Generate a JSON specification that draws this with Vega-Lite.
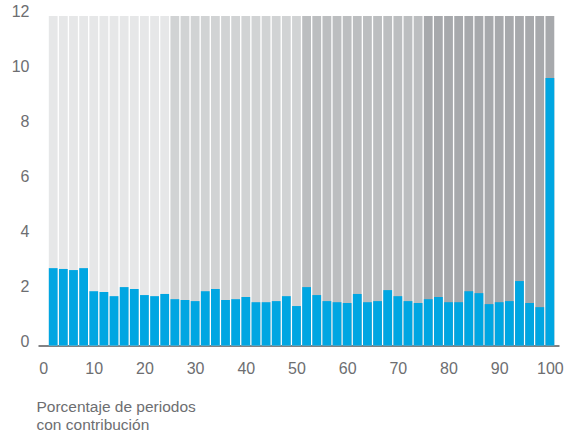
{
  "$schema": "https://vega.github.io/schema/vega-lite/v6.json",
  "autosize": {"type": "none"},
  "width": 521,
  "height": 329.6,
  "padding": {"left": 38, "top": 16, "right": 10, "bottom": 92},
  "background": "white",
  "config": {
    "view": {"stroke": null},
    "font": "Liberation Sans"
  },
  "data": {
    "values": [
      {"x": 2, "v": 2.82, "g": "Q1"}, {"x": 4, "v": 2.79, "g": "Q1"}, {"x": 6, "v": 2.75, "g": "Q1"},
      {"x": 8, "v": 2.82, "g": "Q1"}, {"x": 10, "v": 1.98, "g": "Q1"}, {"x": 12, "v": 1.95, "g": "Q1"},
      {"x": 14, "v": 1.80, "g": "Q1"}, {"x": 16, "v": 2.13, "g": "Q1"}, {"x": 18, "v": 2.06, "g": "Q1"},
      {"x": 20, "v": 1.84, "g": "Q1"}, {"x": 22, "v": 1.80, "g": "Q1"}, {"x": 24, "v": 1.88, "g": "Q1"},
      {"x": 26, "v": 1.69, "g": "Q2"}, {"x": 28, "v": 1.66, "g": "Q2"}, {"x": 30, "v": 1.62, "g": "Q2"},
      {"x": 32, "v": 1.98, "g": "Q2"}, {"x": 34, "v": 2.06, "g": "Q2"}, {"x": 36, "v": 1.66, "g": "Q2"},
      {"x": 38, "v": 1.69, "g": "Q2"}, {"x": 40, "v": 1.77, "g": "Q2"}, {"x": 42, "v": 1.58, "g": "Q2"},
      {"x": 44, "v": 1.58, "g": "Q2"}, {"x": 46, "v": 1.62, "g": "Q2"}, {"x": 48, "v": 1.80, "g": "Q2"},
      {"x": 50, "v": 1.44, "g": "Q2"}, {"x": 52, "v": 2.13, "g": "Q3"}, {"x": 54, "v": 1.84, "g": "Q3"},
      {"x": 56, "v": 1.62, "g": "Q3"}, {"x": 58, "v": 1.58, "g": "Q3"}, {"x": 60, "v": 1.55, "g": "Q3"},
      {"x": 62, "v": 1.88, "g": "Q3"}, {"x": 64, "v": 1.58, "g": "Q3"}, {"x": 66, "v": 1.62, "g": "Q3"},
      {"x": 68, "v": 2.02, "g": "Q3"}, {"x": 70, "v": 1.80, "g": "Q3"}, {"x": 72, "v": 1.62, "g": "Q3"},
      {"x": 74, "v": 1.55, "g": "Q3"}, {"x": 76, "v": 1.69, "g": "Q4"}, {"x": 78, "v": 1.77, "g": "Q4"},
      {"x": 80, "v": 1.58, "g": "Q4"}, {"x": 82, "v": 1.58, "g": "Q4"}, {"x": 84, "v": 1.98, "g": "Q4"},
      {"x": 86, "v": 1.91, "g": "Q4"}, {"x": 88, "v": 1.51, "g": "Q4"}, {"x": 90, "v": 1.58, "g": "Q4"},
      {"x": 92, "v": 1.62, "g": "Q4"}, {"x": 94, "v": 2.35, "g": "Q4"}, {"x": 96, "v": 1.55, "g": "Q4"},
      {"x": 98, "v": 1.40, "g": "Q4"}, {"x": 100, "v": 9.74, "g": "Q4"}
    ]
  },
  "encoding": {
    "x": {
      "field": "x",
      "type": "quantitative",
      "scale": {"domain": [-1, 101.8], "nice": false, "zero": false, "padding": 0},
      "axis": {
        "values": [0, 10, 20, 30, 40, 50, 60, 70, 80, 90, 100],
        "grid": false,
        "ticks": false,
        "tickSize": 0,
        "domain": true,
        "domainColor": "#58595b",
        "domainWidth": 1.5,
        "labelFont": "Liberation Sans",
        "labelFontSize": 16,
        "labelColor": "#6d6e71",
        "labelPadding": 15,
        "labelBaseline": "top",
        "labelFlush": false,
        "title": ["Porcentaje de periodos", "con contribución"],
        "titleFont": "Liberation Sans",
        "titleFontSize": 15.5,
        "titleFontWeight": "normal",
        "titleColor": "#6d6e71",
        "titleAnchor": "start",
        "titleAlign": "left",
        "titleBaseline": "alphabetic",
        "titleX": -2,
        "titleY": 65.5,
        "titleLineHeight": 18
      }
    }
  },
  "layer": [
    {
      "mark": {"type": "bar", "size": 8.8},
      "encoding": {
        "y": {
          "datum": 12,
          "type": "quantitative",
          "scale": {"domain": [0, 12], "nice": false},
          "axis": {
            "values": [0, 2, 4, 6, 8, 10, 12],
            "grid": false,
            "ticks": false,
            "tickSize": 0,
            "domain": false,
            "labelFont": "Liberation Sans",
            "labelFontSize": 16,
            "labelColor": "#6d6e71",
            "labelPadding": 9,
            "labelBaseline": "middle",
            "labelOffset": -4,
            "labelFlush": false,
            "title": null
          }
        },
        "color": {
          "field": "g",
          "type": "nominal",
          "scale": {"domain": ["Q1", "Q2", "Q3", "Q4"], "range": ["#e6e7e8", "#d1d3d4", "#bcbec0", "#a7a9ac"]},
          "legend": null
        }
      }
    },
    {
      "mark": {"type": "bar", "size": 8.8, "color": "#00a6e2"},
      "encoding": {
        "y": {"field": "v", "type": "quantitative"}
      }
    }
  ]
}
